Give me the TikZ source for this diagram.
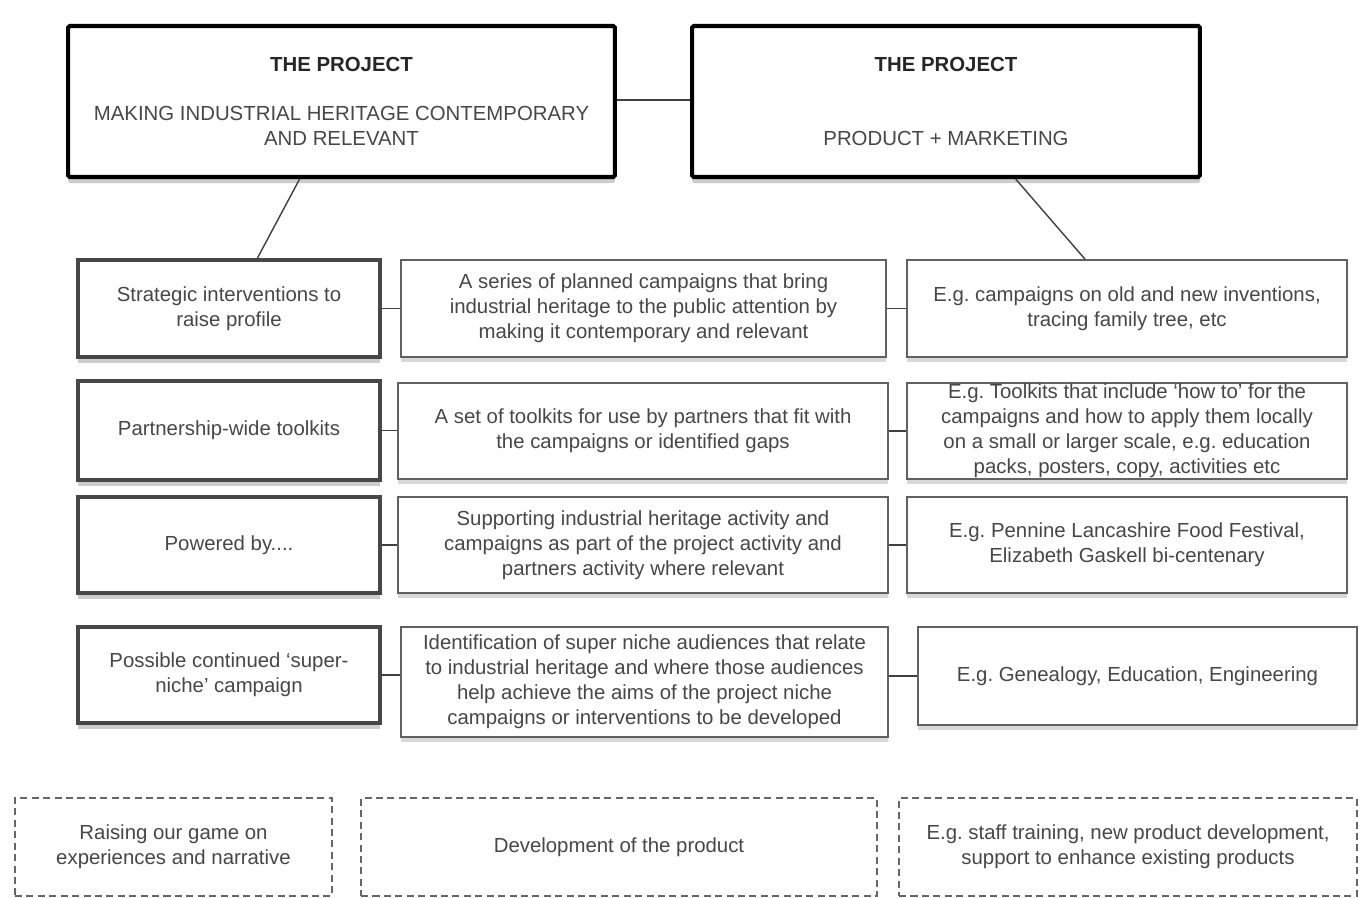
\documentclass[tikz,border=0pt]{standalone}
\usepackage{fontspec}
\setmainfont{Liberation Sans}
\usetikzlibrary{shadows,calc}
\frenchspacing
\begin{document}
\begin{tikzpicture}[x=0.02cm,y=-0.02cm,
  every node/.style={font=\fontsize{11.6}{14.2}\selectfont, text=black!72, align=center, inner sep=0pt},
  topbox/.style={draw=black, line width=2.3pt, fill=white, rounded corners=1pt,
    drop shadow={opacity=0.4, shadow xshift=0pt, shadow yshift=-3.5pt}},
  leftbox/.style={draw=black!72, line width=2.2pt, fill=white,
    drop shadow={opacity=0.4, shadow xshift=0pt, shadow yshift=-3.5pt}},
  thinbox/.style={draw=black!62, line width=0.9pt, fill=white,
    drop shadow={opacity=0.3, shadow xshift=0pt, shadow yshift=-3pt}},
  dashbox/.style={draw=black!60, dash pattern=on 4pt off 2.5pt, line width=0.9pt, fill=white},
  link/.style={draw=black!75, line width=0.8pt}
]
\useasboundingbox (0,0) rectangle (1359,898);
\fill[white] (0,0) rectangle (1359,898);

% top boxes
\node[topbox, minimum width=10.94cm, minimum height=3.02cm] (TL) at (341.5,101.5)
  {\textbf{\color{black!85}THE PROJECT}\\[0.48cm]MAKING INDUSTRIAL HERITAGE CONTEMPORARY\\AND RELEVANT};
\node[topbox, minimum width=10.16cm, minimum height=3.02cm] (TR) at (946,101.5)
  {\textbf{\color{black!85}THE PROJECT}\\[1.0cm]PRODUCT + MARKETING};

% row 1
\node[leftbox, minimum width=6.04cm, minimum height=1.94cm] (L1) at (229,308.5)
  {Strategic interventions to\\raise profile};
\node[thinbox, minimum width=9.7cm, minimum height=1.94cm] (M1) at (643.5,308.5)
  {A series of planned campaigns that bring\\industrial heritage to the public attention by\\making it contemporary and relevant};
\node[thinbox, minimum width=8.8cm, minimum height=1.94cm] (R1) at (1127,308.5)
  {E.g. campaigns on old and new inventions,\\tracing family tree, etc};

% row 2
\node[leftbox, minimum width=6.04cm, minimum height=1.98cm] (L2) at (229,430.5)
  {Partnership-wide toolkits};
\node[thinbox, minimum width=9.8cm, minimum height=1.92cm] (M2) at (643,431)
  {A set of toolkits for use by partners that fit with\\the campaigns or identified gaps};
\node[thinbox, minimum width=8.8cm, minimum height=1.92cm] (R2) at (1127,431) {};
\node at (1127,431)
  {E.g. Toolkits that include `how to' for the\\campaigns and how to apply them locally\\on a small or larger scale, e.g. education\\packs, posters, copy, activities etc};

% row 3
\node[leftbox, minimum width=6.04cm, minimum height=1.92cm] (L3) at (229,545)
  {Powered by....};
\node[thinbox, minimum width=9.8cm, minimum height=1.92cm] (M3) at (643,545)
  {Supporting industrial heritage activity and\\campaigns as part of the project activity and\\partners activity where relevant};
\node[thinbox, minimum width=8.8cm, minimum height=1.92cm] (R3) at (1127,545)
  {E.g. Pennine Lancashire Food Festival,\\Elizabeth Gaskell bi-centenary};

% row 4
\node[leftbox, minimum width=6.04cm, minimum height=1.92cm] (L4) at (229,675)
  {Possible continued `super-\\niche' campaign};
\node[thinbox, minimum width=9.74cm, minimum height=2.2cm] (M4) at (644.5,682)
  {Identification of super niche audiences that relate\\to industrial heritage and where those audiences\\help achieve the aims of the project niche\\campaigns or interventions to be developed};
\node[thinbox, minimum width=8.78cm, minimum height=1.96cm] (R4) at (1137.5,676)
  {E.g. Genealogy, Education, Engineering};

% bottom dashed boxes
\node[dashbox, minimum width=6.34cm, minimum height=1.96cm] (B1) at (173.5,847)
  {Raising our game on\\experiences and narrative};
\node[dashbox, minimum width=10.32cm, minimum height=1.96cm] (B2) at (619,847)
  {Development of the product};
\node[dashbox, minimum width=9.16cm, minimum height=1.96cm] (B3) at (1128,847)
  {E.g. staff training, new product development,\\support to enhance existing products};

% connectors
\draw[link] (TL.east |- 0,100) -- (TR.west |- 0,100);
\draw[link] ($(TL.south west)!0.424!(TL.south east)$) -- ($(L1.north west)!0.593!(L1.north east)$);
\draw[link] ($(TR.south west)!0.636!(TR.south east)$) -- ($(R1.north west)!0.405!(R1.north east)$);
\draw[link] (L1.east) -- (M1.west);
\draw[link] (M1.east) -- (R1.west);
\draw[link] (L2.east) -- (L2.east -| M2.west);
\draw[link] (M2.east) -- (M2.east -| R2.west);
\draw[link] (L3.east) -- (M3.west);
\draw[link] (M3.east) -- (R3.west);
\draw[link] (L4.east) -- (L4.east -| M4.west);
\draw[link] (M4.east |- R4.west) -- (R4.west);
\end{tikzpicture}
\end{document}
